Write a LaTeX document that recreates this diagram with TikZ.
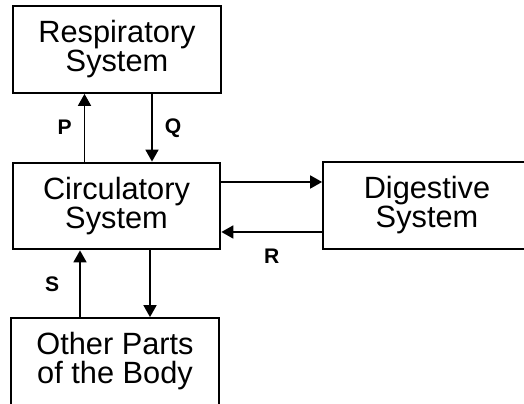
\documentclass[tikz,border=0pt]{standalone}
\usepackage{fontspec}
\setmainfont{Liberation Sans}
\usetikzlibrary{arrows.meta, positioning, calc}
\tikzset{
  sysbox/.style={
    draw, line width=1.3pt, align=center, inner sep=0pt,
    minimum width=4.15cm, minimum height=1.73cm,
    font=\fontsize{17.5}{16.5}\selectfont
  },
  arr/.style={-{Triangle[length=2.4mm,width=2.6mm]}, line width=1pt},
  lab/.style={font=\fontsize{12}{14}\selectfont\bfseries, inner sep=0pt}
}

\begin{document}
\begin{tikzpicture}[x=0.02cm, y=-0.02cm]
  \clip (0,0) rectangle (524,404);
  % the four systems
  \node[sysbox] (resp) at (117,49.5)  {Respiratory\\System};
  \node[sysbox] (circ) at (116.5,206) {Circulatory\\System};
  \node[sysbox] (dig)  at (427,205.5) {Digestive\\System};
  \node[sysbox] (body) at (115,361.5) {Other Parts\\of the Body};
  % exchanges
  \draw[arr] ($(circ.north)+(-32,0)$) coordinate (p0) -- (p0 |- resp.south)
    node[lab, midway, left=0.24cm] (plab) {P};
  \draw[arr] ($(resp.south)+(35,0)$) coordinate (q0) -- (q0 |- circ.north)
    node[lab, midway, right=0.24cm] (qlab) {Q};
  \draw[arr] ($(circ.east)+(0,-24)$) coordinate (d0) -- (d0 -| dig.west);
  \draw[arr] ($(dig.west)+(0,26.5)$) coordinate (r0) -- (r0 -| circ.east)
    node[lab, midway, below=0.32cm] (rlab) {R};
  \draw[arr] ($(body.north)+(-35,0)$) coordinate (s0) -- (s0 |- circ.south)
    node[lab, midway, left=0.4cm] (slab) {S};
  \draw[arr] ($(circ.south)+(33.5,0)$) coordinate (o0) -- (o0 |- body.north);
\end{tikzpicture}
\end{document}
